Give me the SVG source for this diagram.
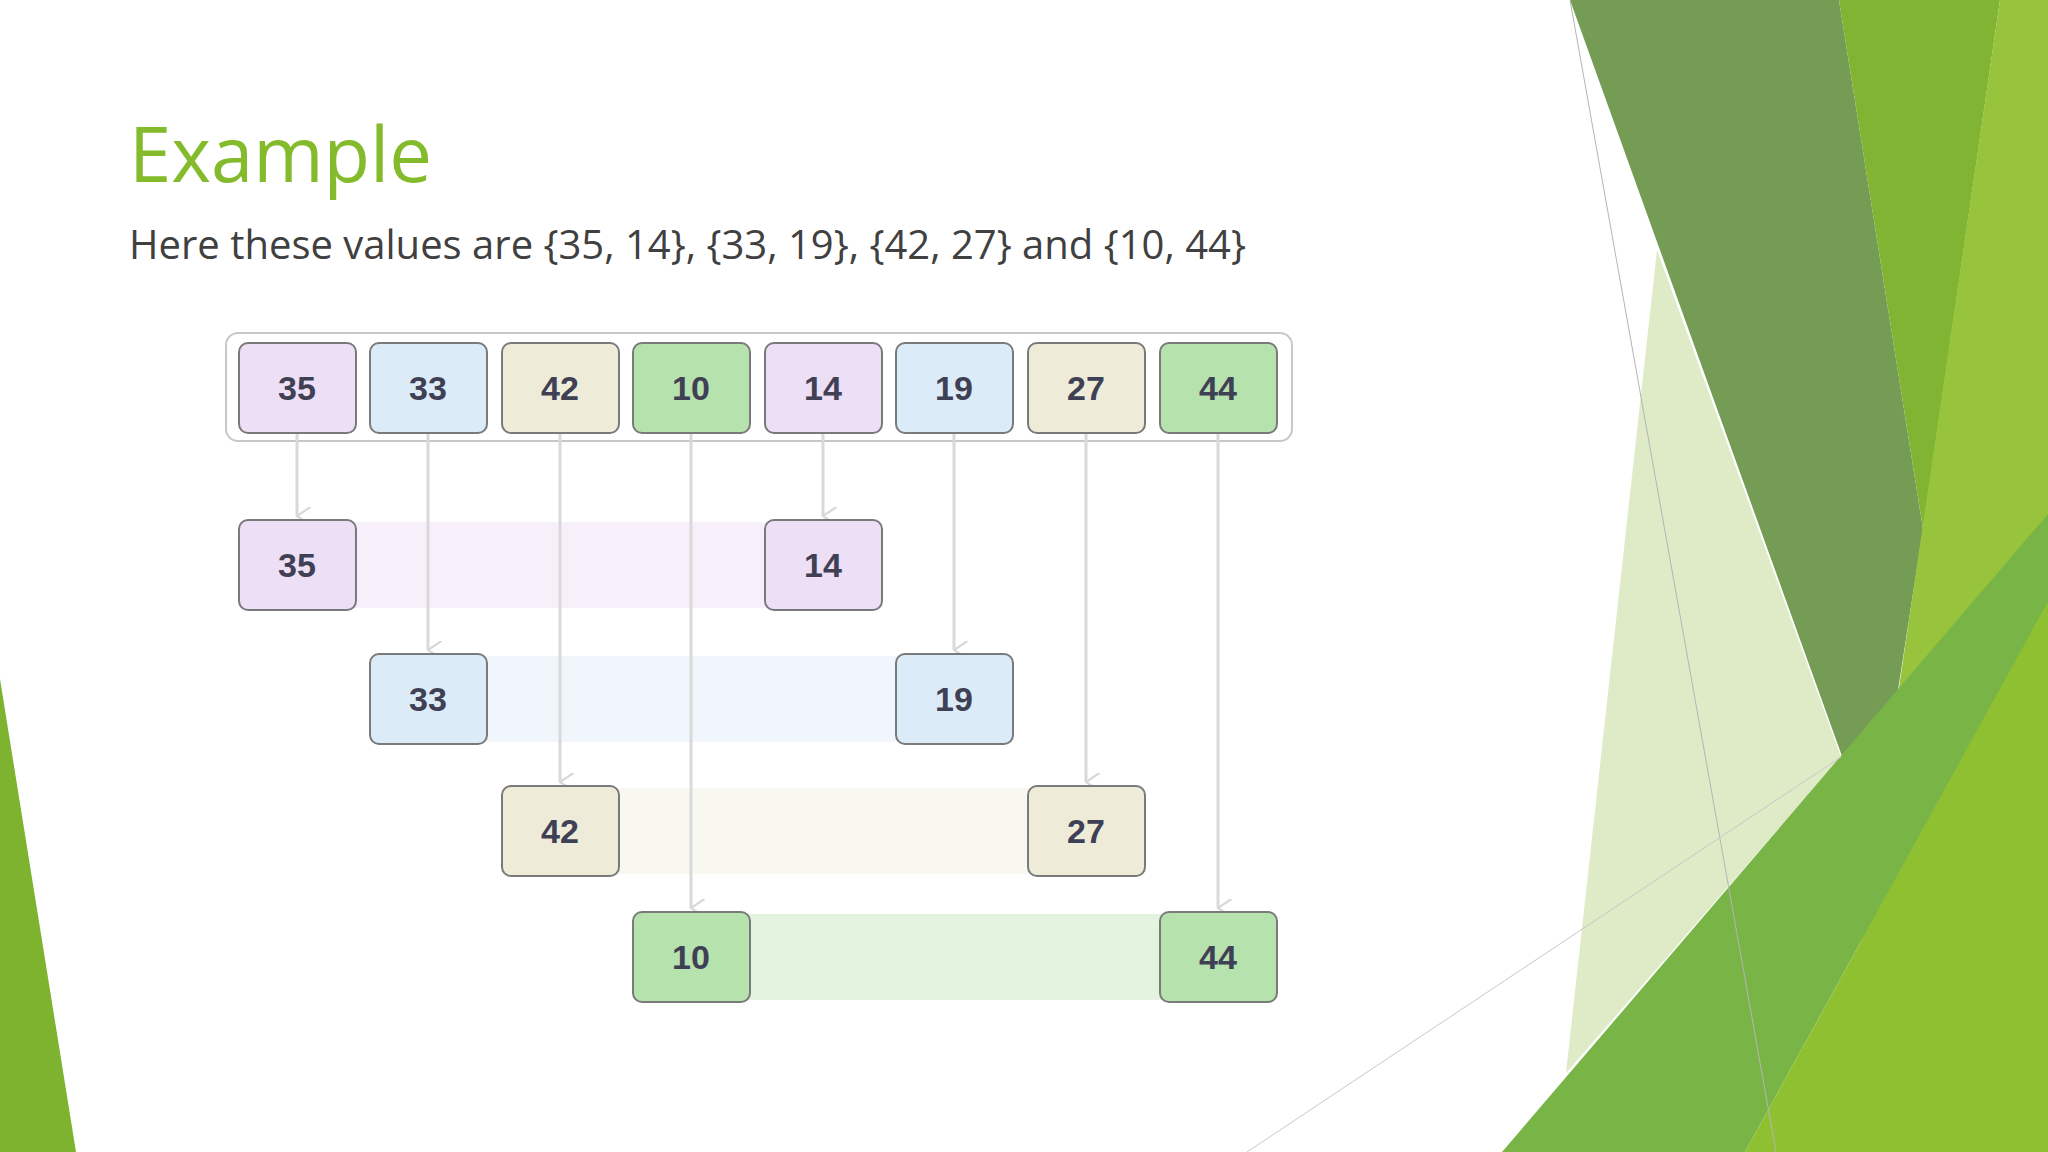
<svg xmlns="http://www.w3.org/2000/svg" width="2048" height="1152" viewBox="0 0 2048 1152">
<style>
.b{stroke:#7a7a7a;stroke-width:2}
.p{fill:#ecdff6}.u{fill:#dcebf8}.y{fill:#eeecd9}.g{fill:#b6e2ae}
.t{font-family:"Liberation Sans",Arial,sans-serif;font-weight:bold;font-size:34px;fill:#404055;text-anchor:middle}
.c{stroke:#d9d9d9;stroke-width:3;fill:none;marker-end:url(#ah)}
</style>
<defs>
<marker id="ah" viewBox="0 0 12 10" refX="6" refY="9" markerWidth="6" markerHeight="5" orient="auto" markerUnits="strokeWidth"><path d="M0,0 L6,9 L12,0" fill="none" stroke="#d9d9d9" stroke-width="1.5"/></marker>
</defs>
<rect width="2048" height="1152" fill="#fff"/>
<g id="background">
<polygon points="0,679 76,1152 0,1152" fill="#7db32e"/>
<polygon points="1657,250 1841,757 1566,1073" fill="#dfeac6"/>
<polygon points="1570,0 1839,0 1923,529 1874,845" fill="#749c55"/>
<polygon points="1839,0 2000,0 1923,529" fill="#80b432"/>
<polygon points="2000,0 2048,0 2048,1152 1829,1152 1863,933" fill="#97c43c"/>
<polygon points="1502,1152 2048,514 2048,602 1745,1152" fill="#79b446"/>
<polygon points="1745,1152 2048,602 2048,1152" fill="#8fc031"/>
<line x1="1570" y1="0" x2="1776" y2="1152" stroke="#b5b5b5" stroke-width="1"/>
<line x1="1247" y1="1152" x2="1841" y2="757" stroke="#c8c8c8" stroke-width="1"/>
</g>
<g id="title">
<text x="129" y="182" font-family="'Open Sans','Liberation Sans',sans-serif" font-size="76" fill="#84bb2c">Example</text>
<text x="129" y="259" font-family="'Open Sans','Liberation Sans',sans-serif" font-size="40" fill="#404040">Here these values are {35, 14}, {33, 19}, {42, 27} and {10, 44}</text>
</g>
<rect x="226" y="333" width="1066" height="108" rx="12" fill="#fff" stroke="#c8c8c8" stroke-width="2"/>
<g id="bands">
<rect x="240" y="522" width="640" height="86" fill="#f7f0fb"/>
<rect x="372" y="656" width="640" height="86" fill="#f1f6fc"/>
<rect x="503" y="788" width="640" height="86" fill="#f8f8f0"/>
<rect x="635" y="914" width="640" height="86" fill="#e3f3e0"/>
</g>
<g id="connectors">
<line class="c" x1="297" y1="433" x2="297" y2="516"/>
<line class="c" x1="428" y1="433" x2="428" y2="650"/>
<line class="c" x1="560" y1="433" x2="560" y2="782"/>
<line class="c" x1="691" y1="433" x2="691" y2="908"/>
<line class="c" x1="823" y1="433" x2="823" y2="516"/>
<line class="c" x1="954" y1="433" x2="954" y2="650"/>
<line class="c" x1="1086" y1="433" x2="1086" y2="782"/>
<line class="c" x1="1218" y1="433" x2="1218" y2="908"/>
</g>
<g id="n35a"><rect class="b p" x="239" y="343" width="117" height="90" rx="9"/><text class="t" x="297" y="400">35</text></g>
<g id="n33a"><rect class="b u" x="370" y="343" width="117" height="90" rx="9"/><text class="t" x="428" y="400">33</text></g>
<g id="n42a"><rect class="b y" x="502" y="343" width="117" height="90" rx="9"/><text class="t" x="560" y="400">42</text></g>
<g id="n10a"><rect class="b g" x="633" y="343" width="117" height="90" rx="9"/><text class="t" x="691" y="400">10</text></g>
<g id="n14a"><rect class="b p" x="765" y="343" width="117" height="90" rx="9"/><text class="t" x="823" y="400">14</text></g>
<g id="n19a"><rect class="b u" x="896" y="343" width="117" height="90" rx="9"/><text class="t" x="954" y="400">19</text></g>
<g id="n27a"><rect class="b y" x="1028" y="343" width="117" height="90" rx="9"/><text class="t" x="1086" y="400">27</text></g>
<g id="n44a"><rect class="b g" x="1160" y="343" width="117" height="90" rx="9"/><text class="t" x="1218" y="400">44</text></g>
<g id="n35b"><rect class="b p" x="239" y="520" width="117" height="90" rx="9"/><text class="t" x="297" y="577">35</text></g>
<g id="n14b"><rect class="b p" x="765" y="520" width="117" height="90" rx="9"/><text class="t" x="823" y="577">14</text></g>
<g id="n33b"><rect class="b u" x="370" y="654" width="117" height="90" rx="9"/><text class="t" x="428" y="711">33</text></g>
<g id="n19b"><rect class="b u" x="896" y="654" width="117" height="90" rx="9"/><text class="t" x="954" y="711">19</text></g>
<g id="n42b"><rect class="b y" x="502" y="786" width="117" height="90" rx="9"/><text class="t" x="560" y="843">42</text></g>
<g id="n27b"><rect class="b y" x="1028" y="786" width="117" height="90" rx="9"/><text class="t" x="1086" y="843">27</text></g>
<g id="n10b"><rect class="b g" x="633" y="912" width="117" height="90" rx="9"/><text class="t" x="691" y="969">10</text></g>
<g id="n44b"><rect class="b g" x="1160" y="912" width="117" height="90" rx="9"/><text class="t" x="1218" y="969">44</text></g>
</svg>
